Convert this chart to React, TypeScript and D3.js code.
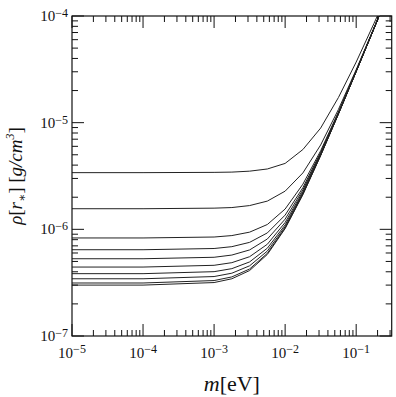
import React from "react";
import * as d3 from "d3";

// sample positions, log10 of m in eV
const logM = [-5, -4, -3, -2.75, -2.5, -2.25, -2, -1.75, -1.5, -1.25, -1, -0.75, -0.5];

// rho[r*] in g/cm^3, one array per curve, top to bottom
const rho1 = [3.4e-6, 3.4e-6, 3.42e-6, 3.44e-6, 3.51e-6, 3.68e-6, 4.15e-6, 5.6e-6, 8.9e-6, 1.72e-5, 3.7e-5, 8.5e-5, 2.0e-4];
const rho2 = [1.56e-6, 1.56e-6, 1.58e-6, 1.6e-6, 1.67e-6, 1.84e-6, 2.28e-6, 3.38e-6, 6.18e-6, 1.33e-5, 3.14e-5, 7.74e-5, 1.944e-4];
const rho3 = [8.3e-7, 8.3e-7, 8.47e-7, 8.74e-7, 9.41e-7, 1.11e-6, 1.55e-6, 2.65e-6, 5.45e-6, 1.26e-5, 3.07e-5, 7.67e-5, 1.94e-4];
const rho4 = [6.44e-7, 6.44e-7, 6.61e-7, 6.88e-7, 7.55e-7, 9.26e-7, 1.36e-6, 2.46e-6, 5.26e-6, 1.239e-5, 3.049e-5, 7.65e-5, 1.934e-4];
const rho5 = [5.3e-7, 5.3e-7, 5.47e-7, 5.74e-7, 6.41e-7, 8.12e-7, 1.246e-6, 2.35e-6, 5.15e-6, 1.228e-5, 3.038e-5, 7.639e-5, 1.933e-4];
const rho6 = [4.43e-7, 4.43e-7, 4.6e-7, 4.87e-7, 5.54e-7, 7.25e-7, 1.159e-6, 2.26e-6, 5.06e-6, 1.219e-5, 3.029e-5, 7.63e-5, 1.932e-4];
const rho7 = [3.84e-7, 3.84e-7, 4.01e-7, 4.28e-7, 4.95e-7, 6.66e-7, 1.1e-6, 2.2e-6, 5.0e-6, 1.213e-5, 3.023e-5, 7.624e-5, 1.932e-4];
const rho8 = [3.44e-7, 3.44e-7, 3.61e-7, 3.88e-7, 4.55e-7, 6.26e-7, 1.06e-6, 2.16e-6, 4.96e-6, 1.209e-5, 3.019e-5, 7.62e-5, 1.931e-4];
const rho9 = [3.14e-7, 3.14e-7, 3.31e-7, 3.58e-7, 4.25e-7, 5.96e-7, 1.03e-6, 2.13e-6, 4.93e-6, 1.206e-5, 3.016e-5, 7.617e-5, 1.931e-4];
const rho10 = [3.0e-7, 3.0e-7, 3.17e-7, 3.44e-7, 4.11e-7, 5.82e-7, 1.016e-6, 2.12e-6, 4.92e-6, 1.205e-5, 3.015e-5, 7.616e-5, 1.931e-4];

const curves = [rho1, rho2, rho3, rho4, rho5, rho6, rho7, rho8, rho9, rho10];

const xDomain = [1e-5, Math.pow(10, -0.5)];
const yDomain = [1e-7, 1e-4];
const xMajor = [-5, -4, -3, -2, -1];
const yMajor = [-7, -6, -5, -4];

const W = 396;
const H = 397;
const L = 72, R = 391.7, T = 16, B = 336;
const FONT = "'Liberation Serif', 'DejaVu Serif', serif";

export default function App() {
  const x = d3.scaleLog().domain(xDomain).range([L, R]);
  const y = d3.scaleLog().domain(yDomain).range([B, T]);

  const line = d3
    .line<number>()
    .x((_, i) => x(Math.pow(10, logM[i])))
    .y((d) => y(d));

  const isMajor = (v: number) => Math.abs(Math.log10(v) - Math.round(Math.log10(v))) < 1e-9;
  const xt = x.ticks();
  const yt = y.ticks();

  return (
    <svg width={W} height={H} style={{ position: "absolute", left: 0, top: 0 }} fontFamily={FONT}>
      <defs>
        <clipPath id="plot">
          <rect x={L} y={T} width={R - L} height={B - T} />
        </clipPath>
      </defs>
      <g clipPath="url(#plot)">
        {curves.map((c, i) => (
          <path key={i} d={line(c) || ""} fill="none" stroke="#222" strokeWidth={1} />
        ))}
      </g>
      <rect x={L} y={T} width={R - L} height={B - T} fill="none" stroke="#111" strokeWidth={1.2} />
      {xt.map((v, i) => {
        const len = isMajor(v) ? 12 : 6;
        const px = x(v);
        return (
          <g key={"x" + i} stroke="#111" strokeWidth={1}>
            <line x1={px} x2={px} y1={B} y2={B - len} />
            <line x1={px} x2={px} y1={T} y2={T + len} />
          </g>
        );
      })}
      {yt.map((v, i) => {
        const len = isMajor(v) ? 12 : 6;
        const py = y(v);
        return (
          <g key={"y" + i} stroke="#111" strokeWidth={1}>
            <line x1={L} x2={L + len} y1={py} y2={py} />
            <line x1={R} x2={R - len} y1={py} y2={py} />
          </g>
        );
      })}
      {xMajor.map((e) => (
        <text key={"xl" + e} x={x(Math.pow(10, e))} y={357.5} textAnchor="middle" fontSize={15} fill="#111">
          10
          <tspan fontSize={12} dy={-5}>{"\u2212" + Math.abs(e)}</tspan>
        </text>
      ))}
      {yMajor.map((e) => (
        <text key={"yl" + e} x={68} y={y(Math.pow(10, e)) + 5} textAnchor="end" fontSize={15} fill="#111">
          10
          <tspan fontSize={12} dy={-4}>{"\u2212" + Math.abs(e)}</tspan>
        </text>
      ))}
      <text x={(L + R) / 2} y={391} textAnchor="middle" fontSize={22} fill="#111">
        <tspan fontStyle="italic">m</tspan>[eV]
      </text>
      <text transform="translate(22,176) rotate(-90)" textAnchor="middle" fontSize={19} fill="#111">
        <tspan fontStyle="italic">ρ</tspan>[<tspan fontStyle="italic">r</tspan>
        <tspan fontSize={12} dy={4}>∗</tspan>
        <tspan dy={-4}>] [</tspan>
        <tspan fontStyle="italic">g/cm</tspan>
        <tspan fontSize={12} fontStyle="italic" dy={-8}>3</tspan>
        <tspan dy={8}>]</tspan>
      </text>
    </svg>
  );
}
